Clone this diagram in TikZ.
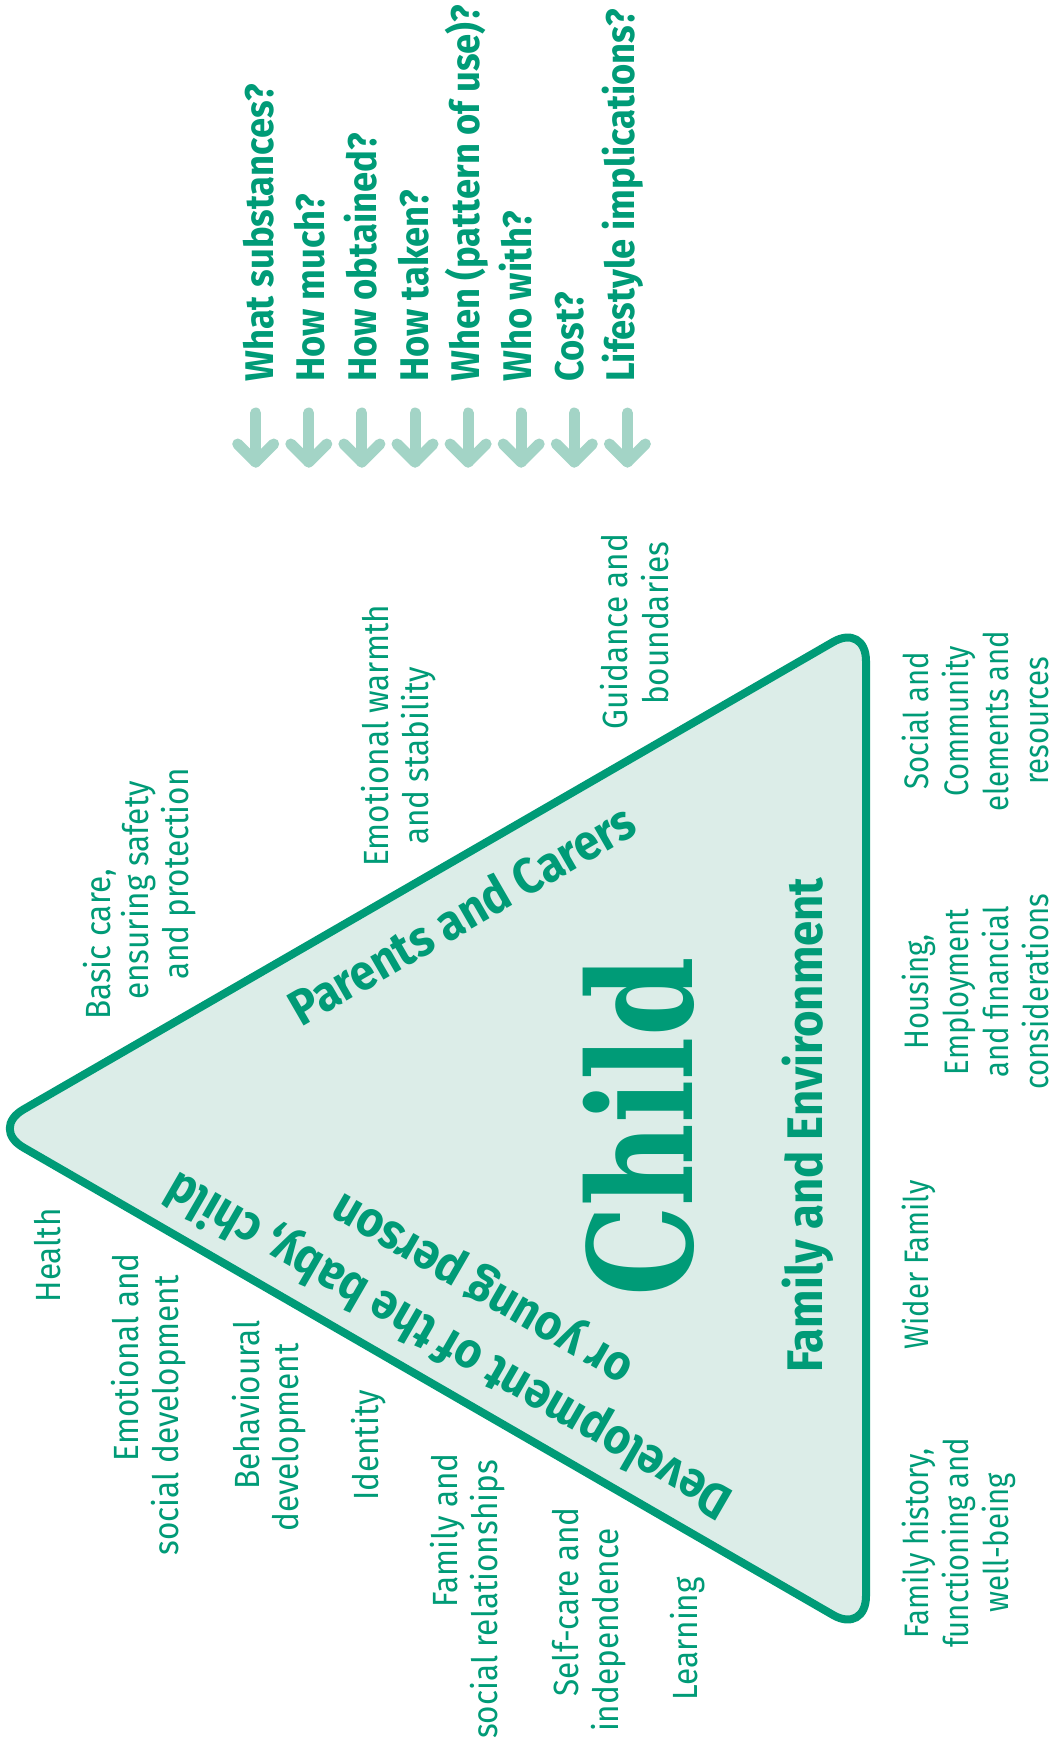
\documentclass[tikz,border=0pt]{standalone}
\usepackage{fontspec}
\setmainfont{Fira Sans}
\newfontfamily\lblfont[FakeStretch=0.9]{Fira Sans}
\newfontfamily\rlblfont[FakeStretch=0.86]{Fira Sans}
\newfontfamily\boldfnt[FakeStretch=0.91]{Fira Sans}
\newfontfamily\childfnt[FakeStretch=0.79]{DejaVu Serif}
\definecolor{cgreen}{RGB}{0,155,119}
\definecolor{cfill}{RGB}{220,237,232}
\definecolor{carrow}{RGB}{163,212,198}
\begin{document}
\begin{tikzpicture}[x=1pt,y=-1pt,
  lbl/.style={text=cgreen, inner sep=0pt, font=\lblfont\fontsize{35}{40}\selectfont, rotate=90},
  uplbl/.style={lbl, anchor=base west},
  dnlbl/.style={lbl, anchor=base east},
  rlbl/.style={text=cgreen, inner sep=0pt, font=\rlblfont\fontsize{34}{40}\selectfont, rotate=90, anchor=base},
  qlbl/.style={text=cgreen, inner sep=0pt, font=\boldfnt\bfseries\fontsize{40}{44}\selectfont, rotate=90, anchor=base west},
  blbl/.style={text=cgreen, inner sep=0pt, font=\boldfnt\bfseries\fontsize{50}{56}\selectfont, anchor=base},
  childlbl/.style={text=cgreen, inner sep=0pt, font=\childfnt\bfseries\fontsize{144}{150}\selectfont, rotate=90, anchor=base},
  tri/.style={draw=cgreen, fill=cfill, line width=8pt, rounded corners=38pt, line join=round},
  qarr/.style={draw=carrow, line width=11pt, line cap=round, line join=round}
]
\useasboundingbox[fill=white] (0,0) rectangle (1052,1745);

% triangle
\coordinate (A) at (-9.5,1128.5);
\coordinate (T) at (866,623);
\coordinate (B) at (866,1634);
\draw[tri] (A) -- (T) -- (B) -- cycle;

% arrows
\foreach \i/\x in {1/255.7,2/308.8,3/361.9,4/415,5/468.1,6/521.2,7/574.3,8/627.4}{
  \coordinate (at\i) at (\x,413);
  \coordinate (ab\i) at (\x,462);
  \draw[qarr] (at\i) -- (ab\i);
  \draw[qarr] (ab\i) ++(-18,-18) -- (ab\i) -- ++(18,-18);
}

% questions
\node[qlbl] (q1) at (273,382) {What substances?};
\node[qlbl] (q2) at (324.7,382) {How much?};
\node[qlbl] (q3) at (376.4,382) {How obtained?};
\node[qlbl] (q4) at (428.1,382) {How taken?};
\node[qlbl] (q5) at (479.8,382) {When (pattern of use)?};
\node[qlbl] (q6) at (531.5,382) {Who with?};
\node[qlbl] (q7) at (583.2,382) {Cost?};
\node[qlbl] (q8) at (634.9,382) {Lifestyle implications?};

% parents side labels
\node[uplbl] (bc1) at (110,1020) {Basic care,};
\node[uplbl] (bc2) at (148,1000) {ensuring safety};
\node[uplbl] (bc3) at (188,980) {and protection};
\node[uplbl] (ew1) at (388,867) {Emotional warmth};
\node[uplbl] (ew2) at (428,845) {and stability};
\node[uplbl] (gb1) at (627,730) {Guidance and};
\node[uplbl] (gb2) at (668,705) {boundaries};

% development side labels
\node[dnlbl] (h1) at (60,1208) {Health};
\node[dnlbl] (es1) at (138,1253) {Emotional and};
\node[dnlbl] (es2) at (178,1275) {social development};
\node[dnlbl] (bd1) at (259,1320) {Behavioural};
\node[dnlbl] (bd2) at (298,1343) {development};
\node[dnlbl] (id1) at (378,1390) {Identity};
\node[dnlbl] (fr1) at (457,1453) {Family and};
\node[dnlbl] (fr2) at (497,1460) {social relationships};
\node[dnlbl] (sc1) at (578,1507) {Self-care and};
\node[dnlbl] (sc2) at (618,1528) {independence};
\node[dnlbl] (ln1) at (697,1577) {Learning};

% family side labels
\node[rlbl] (sc_a) at (928,721) {Social and};
\node[rlbl] (sc_b) at (968,721) {Community};
\node[rlbl] (sc_c) at (1008,721) {elements and};
\node[rlbl] (sc_d) at (1048,721) {resources};
\node[rlbl] (ho_a) at (928,992) {Housing,};
\node[rlbl] (ho_b) at (968,992) {Employment};
\node[rlbl] (ho_c) at (1008,992) {and financial};
\node[rlbl] (ho_d) at (1048,992) {considerations};
\node[rlbl] (wf_a) at (928,1265) {Wider Family};
\node[rlbl] (fh_a) at (928,1543) {Family history,};
\node[rlbl] (fh_b) at (968,1543) {functioning and};
\node[rlbl] (fh_c) at (1008,1543) {well-being};

% inside triangle
\node[blbl, rotate=30] (pc) at (470.5,929.9) {Parents and Carers};
\node[blbl, rotate=150] (dv1) at (456.75,1331.9) {Development of the baby, child};
\node[blbl, rotate=150] (dv2) at (488.75,1276.5) {or young person};
\node[blbl, rotate=90] (fe) at (822,1125) {Family and Environment};
\node[childlbl] (child) at (692,1127) {Child};
\end{tikzpicture}
\end{document}
